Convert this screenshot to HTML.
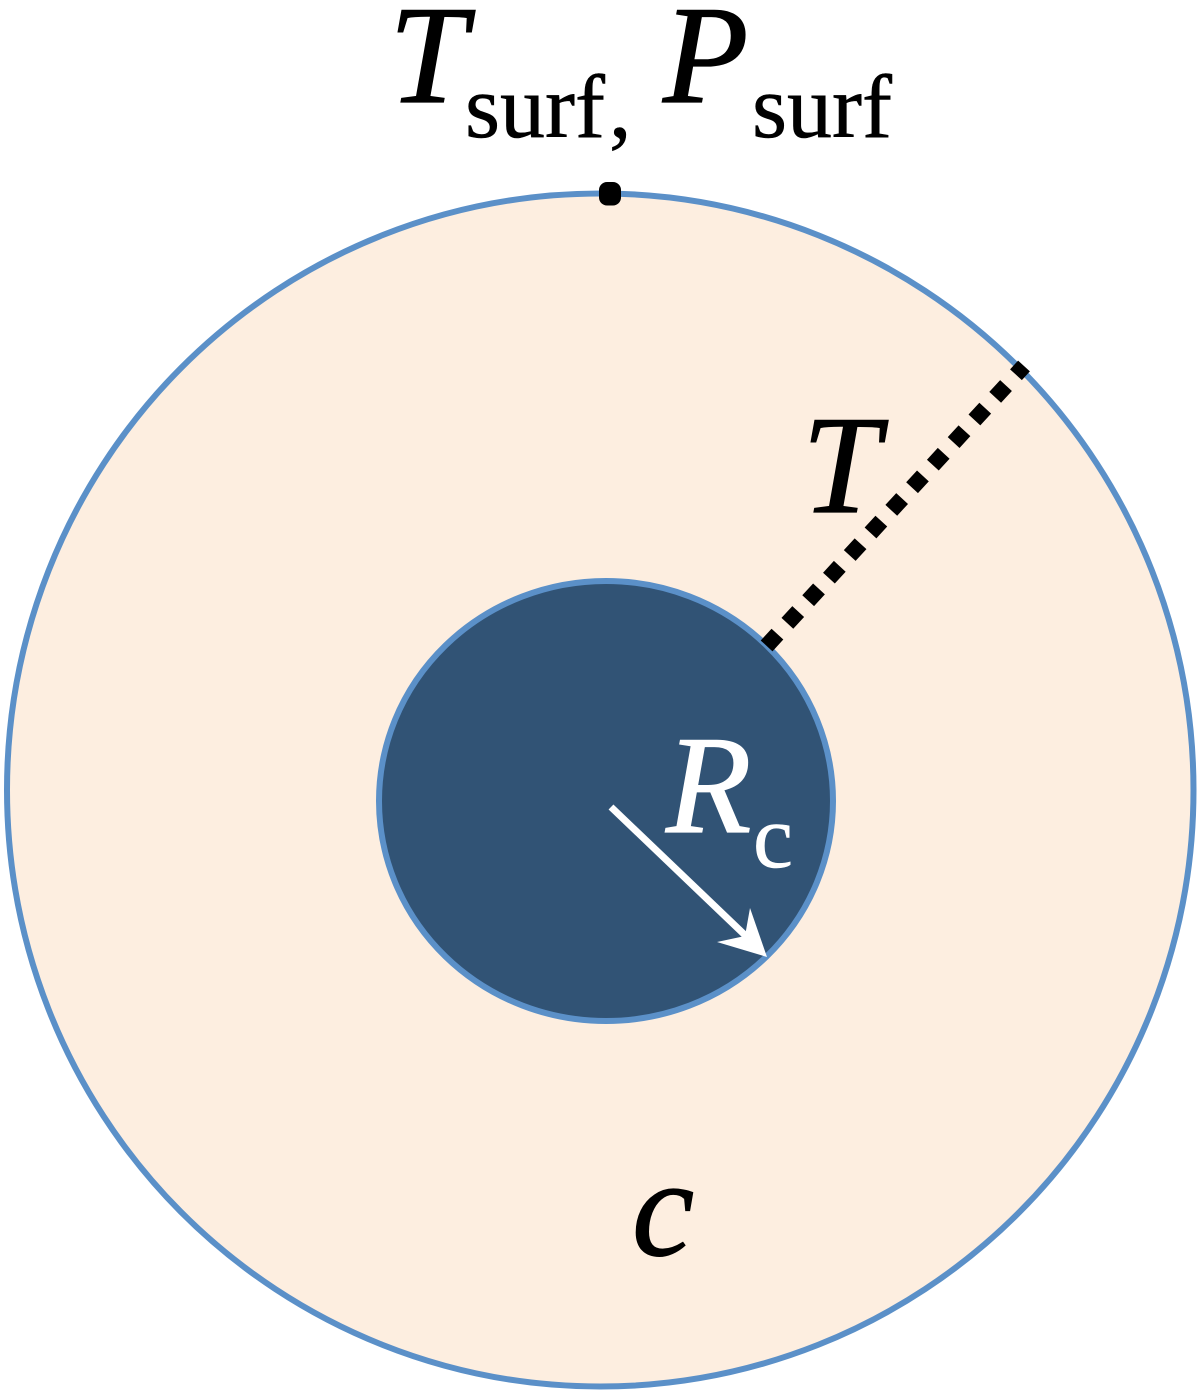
<!DOCTYPE html>
<html>
<head>
<meta charset="utf-8">
<style>
html,body{margin:0;padding:0;background:#fff;width:1200px;height:1391px;overflow:hidden}
svg{display:block}
text{font-family:"Liberation Serif",serif}
.i{font-style:italic;font-size:140px;stroke-width:1.2px}
.s{font-size:90px;stroke-width:0.6px}
.k{stroke:#000;fill:#000}
.w{stroke:#fff;fill:#fff}
</style>
</head>
<body>
<svg width="1200" height="1391" viewBox="0 0 1200 1391" xmlns="http://www.w3.org/2000/svg">
<ellipse cx="600.25" cy="790" rx="593.25" ry="596.5" fill="#fdeee0" stroke="#5b90c8" stroke-width="6"/>
<ellipse cx="606" cy="801" rx="227" ry="220" fill="#315375" stroke="#5b90c8" stroke-width="6"/>
<rect x="599" y="182" width="22" height="23.5" rx="8" fill="#000"/>
<line x1="766.6" y1="645.9" x2="1024" y2="366" stroke="#000" stroke-width="16" stroke-dasharray="16 14.7"/>
<line x1="611" y1="807" x2="748" y2="938" stroke="#fff" stroke-width="7"/>
<polygon points="767,957 717,942 745,936 750,908" fill="#fff"/>
<text class="i k" x="389" y="102">T</text>
<text class="s k" x="465" y="137">surf<tspan dx="4">,</tspan></text>
<text class="i k" x="663" y="102">P</text>
<text class="s k" x="752" y="137">surf</text>
<text class="i k" x="802" y="512">T</text>
<text class="i w" x="666" y="832">R</text>
<text class="s w" x="753" y="867">c</text>
<text class="i k" x="632" y="1255">c</text>
</svg>
</body>
</html>
